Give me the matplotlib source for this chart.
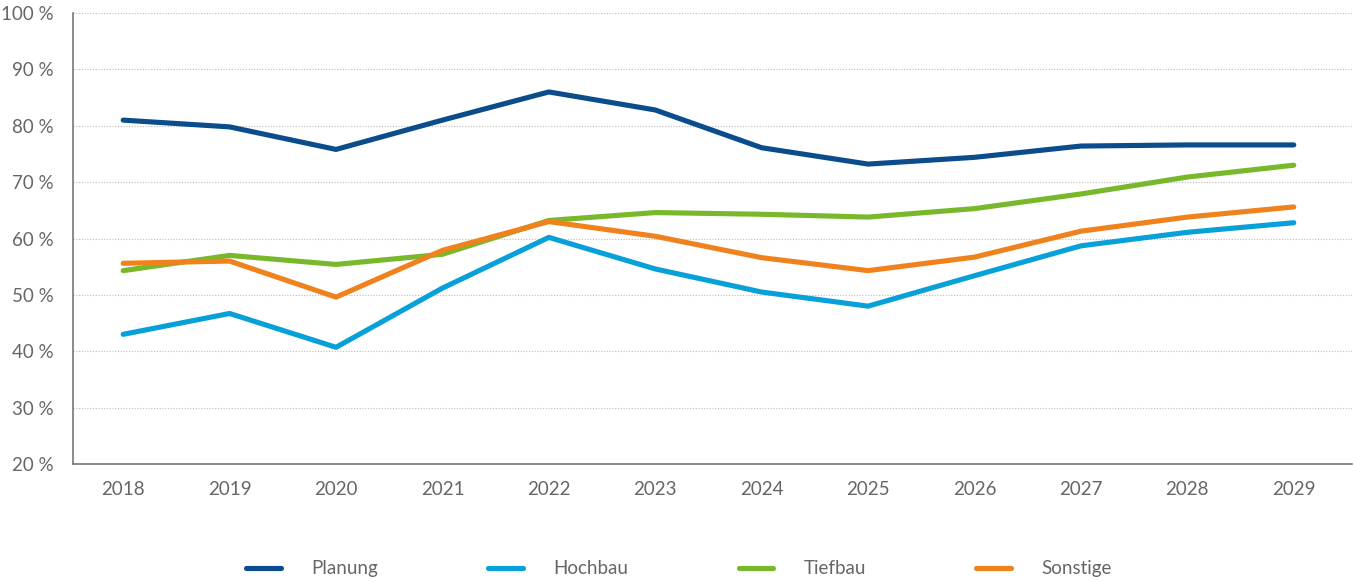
import matplotlib
matplotlib.use("Agg")
import matplotlib.pyplot as plt

years = ["2018", "2019", "2020", "2021", "2022", "2023", "2024", "2025", "2026", "2027", "2028", "2029"]
planung = [81.0, 79.8, 75.8, 81.0, 86.0, 82.8, 76.1, 73.2, 74.4, 76.4, 76.6, 76.6]
hochbau = [43.0, 46.7, 40.7, 51.2, 60.2, 54.6, 50.5, 48.0, 53.4, 58.7, 61.1, 62.8]
tiefbau = [54.3, 57.0, 55.4, 57.2, 63.2, 64.6, 64.3, 63.8, 65.3, 67.9, 70.9, 73.0]
sonstige = [55.6, 56.0, 49.6, 57.9, 63.0, 60.4, 56.6, 54.3, 56.7, 61.3, 63.8, 65.6]

series = [
    ("Planung", planung, "#0b4d8c"),
    ("Hochbau", hochbau, "#08a0d8"),
    ("Tiefbau", tiefbau, "#78b82a"),
    ("Sonstige", sonstige, "#f0821e"),
]

TEXT = "#666666"
plt.rcParams["font.family"] = ["Lato", "DejaVu Sans"]
plt.rcParams["font.size"] = 13.5

fig = plt.figure(figsize=(13.55, 5.81), dpi=100)
ax = fig.add_axes([0.054, 0.2014, 0.944, 0.7762])

x = list(range(len(years)))
for name, vals, col in series:
    ax.plot(x, vals, color=col, lw=3.7, label=name, solid_capstyle="round", solid_joinstyle="round")

ax.set_xlim(-0.47, 11.55)
ax.set_ylim(20, 100)
ax.set_xticks(x)
ax.set_xticklabels(years)
ax.set_yticks(range(20, 101, 10))
ax.set_yticklabels([f"{v} %" for v in range(20, 101, 10)])
ax.tick_params(axis="both", length=0, colors=TEXT, labelsize=13.5)
ax.tick_params(axis="y", pad=14)
ax.tick_params(axis="x", pad=12)

for s in ["top", "right"]:
    ax.spines[s].set_visible(False)
for s in ["left", "bottom"]:
    ax.spines[s].set_color("#777777")
    ax.spines[s].set_linewidth(1.2)

ax.yaxis.grid(True, linestyle=(0, (1, 1.5)), color="#bbbbbb", lw=0.8)
ax.set_axisbelow(True)

fig.legend(loc="center", bbox_to_anchor=(0.501, 0.021), ncol=4, frameon=False,
           handlelength=1.85, handletextpad=1.6, columnspacing=5.9,
           fontsize=13.5, labelcolor=TEXT)

fig.savefig("out.png", dpi=100)
